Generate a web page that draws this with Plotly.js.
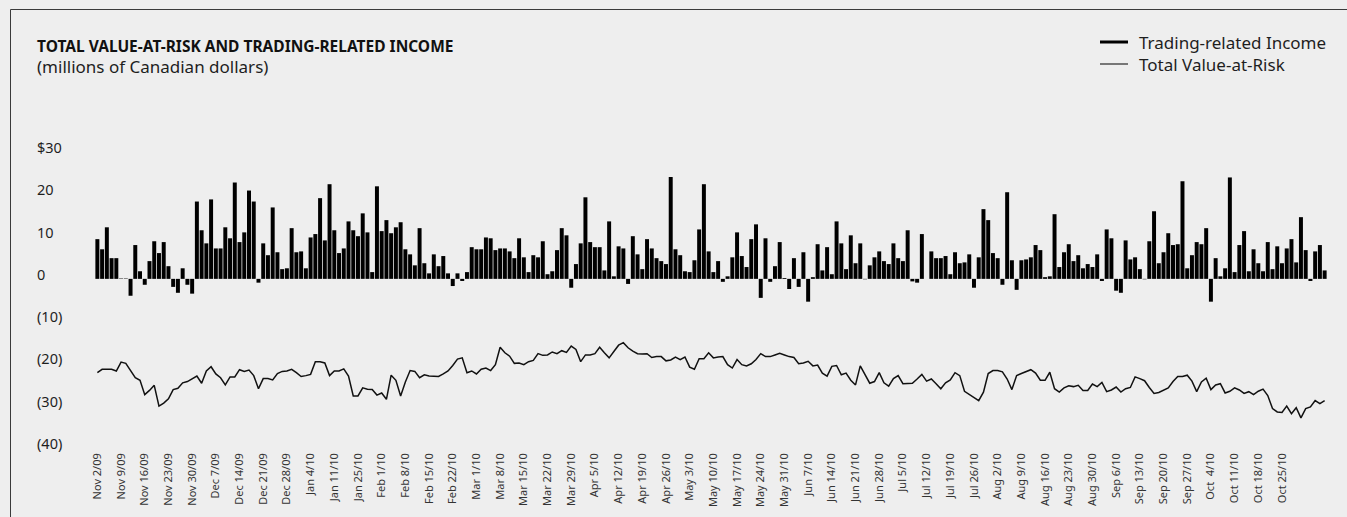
<!DOCTYPE html>
<html>
<head>
<meta charset="utf-8">
<script src="https://cdn.plot.ly/plotly-3.0.1.min.js"></script>
<style>html,body{margin:0;padding:0;background:#eeeeee;}#chart{width:1347px;height:517px;}</style>
</head>
<body>
<div id="chart"></div>
<script>
// Trading-related income, one bar per trading day (millions of C$)
const income = [
 9.4, 7.0, 12.2, 4.9, 4.9, 0.1, 0.1, -4.0, 8.0, 1.8, -1.4, 4.2, 8.9, 6.1, 8.7, 3.0, -1.9, -3.3, 2.5, -1.4,
 -3.5, 18.3, 11.5, 8.4, 18.8, 7.2, 7.2, 12.2, 9.6, 22.8, 8.7, 11.0, 20.9, 18.3, -0.9, 8.4, 5.6, 16.9, 6.3, 2.3,
 2.5, 12.0, 6.3, 6.5, 2.5, 9.8, 10.6, 19.1, 9.1, 22.4, 11.5, 6.1, 7.2, 13.6, 11.5, 10.1, 15.5, 11.0, 1.6, 21.9,
 11.3, 13.9, 10.8, 12.2, 13.4,
 7.0, 5.8, 3.2, 12.0, 3.7, 1.3, 5.8, 3.0, 5.4, 1.3, -1.7, 1.3, -0.5, 1.6, 7.5, 7.0, 7.0, 9.8, 9.6, 6.8,
 7.2, 7.2, 6.5, 4.9, 9.6, 5.1, 1.6, 5.6, 5.1, 8.9, 1.1, 1.8, 6.8, 12.0, 10.3, -2.1, 3.5, 8.4, 19.3, 8.7,
 7.5, 7.5, 2.0, 13.6, 0.6, 7.7, 7.2, -1.2, 10.1, 5.8, 2.3, 9.4, 7.2, 4.9, 4.2, 3.5, 24.1, 7.0, 5.6, 1.8,
 1.6, 4.4, 11.7, 22.4, 6.5,
 1.6, 4.2, -0.7, 0.6, 5.1, 11.0, 5.4, 2.8, 9.4, 12.9, -4.5, 9.6, -0.7, 3.0, 8.7, 0.2, -2.4, 4.9, -1.9, 6.3,
 -5.4, 0.4, 8.2, 2.0, 7.5, 1.1, 13.6, 8.4, 2.3, 10.3, 3.7, 8.4, -0.1, 3.2, 5.1, 6.5, 4.2, 3.5, 8.4, 4.9,
 4.2, 11.5, -0.6, -0.9, 10.6, 0.0, 6.5, 4.9, 4.9, 5.4, 1.1, 6.3, 3.7, 3.9, 5.8, -2.1, 5.1, 16.5, 13.9, 6.1,
 4.9, -1.4, 20.5, 4.4, -2.6,
 4.4, 4.6, 5.1, 8.0, 6.8, 0.4, 0.6, 15.3, 2.8, 6.3, 8.2, 4.2, 5.6, 2.5, 3.5, 2.8, 5.8, -0.5, 11.7, 9.6,
 -2.8, -3.3, 9.1, 4.6, 5.1, 2.3, -0.1, 8.9, 16.0, 3.7, 6.3, 10.8, 8.0, 8.2, 23.1, 2.5, 5.6, 8.7, 8.2, 12.0,
 -5.4, 4.9, 0.6, 2.5, 24.0, 1.6, 8.0, 11.3, 1.8, 7.0, 3.7, 1.8, 8.7, 2.3, 7.7, 3.7, 7.2, 9.4, 3.9, 14.6,
 6.8, -0.5, 6.5, 8.0, 2.0
];

// Total Value-at-Risk, one point per trading day (millions of C$)
const valueAtRisk = [
 -22.2, -21.4, -21.4, -21.4, -21.8, -19.7, -20.0, -21.7, -23.4, -24.0, -27.4, -26.4, -25.2, -30.1, -29.4, -28.4, -26.2, -25.9, -24.6, -24.3,
 -23.6, -23.0, -24.7, -21.8, -20.8, -22.5, -23.4, -25.1, -23.2, -23.2, -21.5, -21.9, -21.6, -22.9, -26.0, -23.6, -23.6, -23.9, -22.4, -21.9,
 -21.8, -21.4, -22.2, -23.1, -22.9, -22.6, -19.6, -19.6, -19.9, -22.9, -21.8, -21.8, -21.3, -23.0, -27.7, -27.7, -25.8, -26.1, -26.2, -27.5,
 -27.0, -28.5, -22.8, -24.0, -27.7,
 -24.4, -21.7, -21.9, -23.4, -22.7, -23.0, -23.1, -23.1, -22.5, -21.8, -20.5, -19.0, -18.7, -22.2, -21.8, -22.5, -21.4, -21.1, -21.7, -20.3,
 -16.2, -17.5, -18.3, -20.0, -19.9, -20.3, -19.6, -19.3, -17.7, -18.1, -18.0, -17.3, -17.7, -17.0, -17.4, -15.9, -16.7, -19.6, -18.0, -18.0,
 -17.7, -16.2, -17.5, -18.7, -17.2, -15.7, -15.1, -16.3, -17.1, -17.7, -17.8, -17.7, -18.6, -18.4, -18.4, -19.4, -19.2, -18.5, -19.1, -18.5,
 -20.9, -21.4, -18.9,
 -18.9, -17.5, -18.7, -18.5, -18.4, -20.3, -21.1, -19.1, -20.3, -20.6, -20.1, -19.1, -17.7, -18.4, -18.4, -18.0, -17.6, -18.0, -18.4, -18.6,
 -20.1, -19.9, -19.5, -20.6, -20.4, -22.3, -23.0, -20.7, -20.5, -22.7, -22.3, -24.0, -25.1, -20.6, -22.6, -24.7, -24.3, -22.2, -24.6, -25.4,
 -23.6, -22.9, -24.8, -24.7, -24.7, -23.7, -22.6, -24.2, -23.7, -24.8, -26.0, -24.6, -23.9, -22.2, -22.9, -26.6, -27.4, -28.1, -28.8, -26.8,
 -22.4, -21.7, -21.7, -22.0,
 -23.7, -26.2, -22.9, -22.4, -21.9, -21.5, -22.3, -24.0, -24.0, -22.1, -26.0, -26.8, -25.8, -25.3, -25.5, -25.2, -26.4, -26.4, -24.9, -25.5,
 -24.5, -26.7, -26.3, -25.6, -26.8, -26.0, -25.7, -23.2, -23.6, -24.1, -25.7, -27.1, -26.9, -26.4, -25.8, -24.3, -23.1, -23.1, -22.8, -24.2,
 -26.7, -24.4, -23.5, -26.2, -25.1, -24.8, -27.0, -26.6, -25.8, -26.3, -27.1, -26.7, -27.4, -26.6, -26.1, -27.6, -30.7, -31.5, -31.6, -30.1,
 -31.9, -30.5, -32.9, -30.7, -30.3, -28.8, -29.5, -28.8
];

// Weekly tick labels (one every 5 trading days)
const weekLabels = [
 "Nov 2/09","Nov 9/09","Nov 16/09","Nov 23/09","Nov 30/09","Dec 7/09","Dec 14/09","Dec 21/09","Dec 28/09",
 "Jan 4/10","Jan 11/10","Jan 25/10","Feb 1/10","Feb 8/10","Feb 15/10","Feb 22/10","Mar 1/10","Mar 8/10",
 "Mar 15/10","Mar 22/10","Mar 29/10","Apr 5/10","Apr 12/10","Apr 19/10","Apr 26/10","May 3/10","May 10/10",
 "May 17/10","May 24/10","May 31/10","Jun 7/10","Jun 14/10","Jun 21/10","Jun 28/10","Jul 5/10","Jul 12/10",
 "Jul 19/10","Jul 26/10","Aug 2/10","Aug 9/10","Aug 16/10","Aug 23/10","Aug 30/10","Sep 6/10","Sep 13/10",
 "Sep 20/10","Sep 27/10","Oct  4/10","Oct 11/10","Oct 18/10","Oct 25/10"
];

// Y-axis tick values and labels
const yTickVals = [30, 20, 10, 0, -10, -20, -30, -40];
const yTickText = ["$30", "20", "10", "0", "(10)", "(20)", "(30)", "(40)"];

const chartTitle = "TOTAL VALUE-AT-RISK AND TRADING-RELATED INCOME";
const chartSubtitle = "(millions of Canadian dollars)";
const seriesNames = ["Trading-related Income", "Total Value-at-Risk"];

// ---- layout geometry ----
const W = 1347, H = 517;
const M = {l: 95, r: 20, t: 146, b: 67};
const PW = W - M.l - M.r, PH = H - M.t - M.b;
const px = x => (x - M.l) / PW;          // pixel -> paper x
const py = y => (H - M.b - y) / PH;      // pixel -> paper y

const FONT = "Noto Sans, Open Sans, DejaVu Sans, sans-serif";
const TXT = "#1e1e1e";

const days = income.map((_, i) => i);
const weekTickPos = weekLabels.map((_, i) => i * 5);

const traces = [
  {
    type: "bar", x: days, y: income, name: seriesNames[0],
    marker: {color: "#000000", line: {width: 0}}, showlegend: false, hoverinfo: "skip"
  },
  {
    type: "scatter", mode: "lines", x: days, y: valueAtRisk, name: seriesNames[1],
    line: {color: "#111111", width: 1.5}, showlegend: false, hoverinfo: "skip"
  }
];

const annotations = [
  {xref: "paper", yref: "paper", x: px(35), y: py(46), xanchor: "left", yanchor: "middle",
   text: "<b>" + chartTitle + "</b>", showarrow: false, font: {family: FONT, size: 15.5, color: "#111"}},
  {xref: "paper", yref: "paper", x: px(35), y: py(67), xanchor: "left", yanchor: "middle",
   text: chartSubtitle, showarrow: false, font: {family: FONT, size: 17, color: TXT}},
  {xref: "paper", yref: "paper", x: px(1137), y: py(42), xanchor: "left", yanchor: "middle",
   text: seriesNames[0], showarrow: false, font: {family: FONT, size: 17, color: TXT}},
  {xref: "paper", yref: "paper", x: px(1137), y: py(64), xanchor: "left", yanchor: "middle",
   text: seriesNames[1], showarrow: false, font: {family: FONT, size: 17, color: TXT}}
];
yTickVals.forEach((v, i) => {
  annotations.push({xref: "paper", yref: "y", x: px(35), y: v, yshift: 5, xanchor: "left", yanchor: "middle",
    text: yTickText[i], showarrow: false, font: {family: FONT, size: 14.5, color: TXT}});
});

const shapes = [
  // frame (top and left rules)
  {type: "line", xref: "paper", yref: "paper", x0: px(10.5), x1: px(1347), y0: py(9.5), y1: py(9.5), line: {color: "#3a3a3a", width: 1}},
  {type: "line", xref: "paper", yref: "paper", x0: px(10.5), x1: px(10.5), y0: py(9.5), y1: py(517), line: {color: "#3a3a3a", width: 1}},
  // legend keys
  {type: "line", xref: "paper", yref: "paper", x0: px(1100), x1: px(1128), y0: py(42), y1: py(42), line: {color: "#000", width: 3}},
  {type: "line", xref: "paper", yref: "paper", x0: px(1100), x1: px(1128), y0: py(64), y1: py(64), line: {color: "#000", width: 1}}
];

const layout = {
  width: W, height: H,
  margin: M,
  paper_bgcolor: "#eeeeee", plot_bgcolor: "#eeeeee",
  showlegend: false,
  bargap: 0.16,
  font: {family: FONT, color: TXT},
  xaxis: {
    range: [-0.5, income.length - 0.5],
    tickmode: "array", tickvals: weekTickPos, ticktext: weekLabels,
    tickangle: -90, tickfont: {family: FONT, size: 11, color: "#333"},
    showgrid: false, zeroline: false, showline: false, ticks: "", fixedrange: true
  },
  yaxis: {
    range: [-40.5, 31.44],
    tickmode: "array", tickvals: yTickVals, showticklabels: false,
    showgrid: false, zeroline: false, showline: false, ticks: "", fixedrange: true
  },
  annotations: annotations,
  shapes: shapes
};

Plotly.newPlot("chart", traces, layout, {displayModeBar: false, staticPlot: true});
</script>
</body>
</html>
